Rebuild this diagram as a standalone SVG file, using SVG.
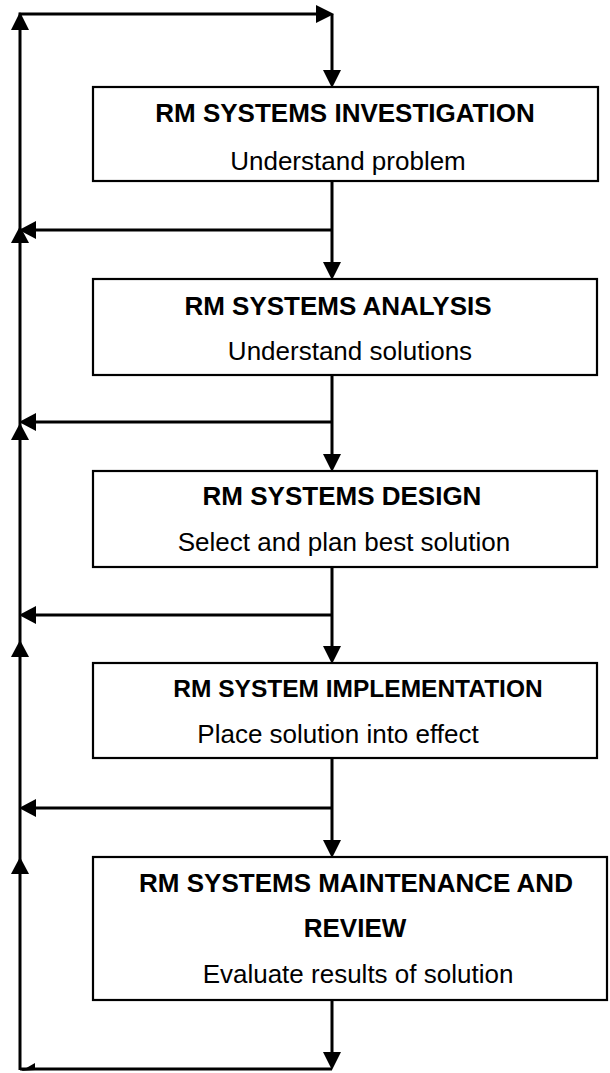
<svg xmlns="http://www.w3.org/2000/svg" width="610" height="1073" viewBox="0 0 610 1073">
<style>
.box{fill:#fff;stroke:#000;stroke-width:2.2}
.t{font-family:"Liberation Sans",Arial,sans-serif;font-weight:bold;font-size:26px;text-anchor:middle;fill:#000}
.s{font-family:"Liberation Sans",Arial,sans-serif;font-size:26px;text-anchor:middle;fill:#000}
.ln{fill:none;stroke:#000;stroke-width:3}
.ah{fill:#000}
</style>
<rect width="610" height="1073" fill="#fff"/>
<g id="connectors">
<path class="ln" d="M20,1070 V14 H318"/>
<path class="ln" d="M332,14 V73"/>
<path class="ln" d="M332,181 V265 M332,230 H34"/>
<path class="ln" d="M332,375 V457 M332,422 H34"/>
<path class="ln" d="M332,567 V649 M332,615 H34"/>
<path class="ln" d="M332,758 V843 M332,808 H34"/>
<path class="ln" d="M332,1000 V1055 M332,1069 H20"/>
<polygon class="ah" points="334,14 316,5 316,23"/>
<polygon class="ah" points="20,12 11,30 29,30"/>
<polygon class="ah" points="332,88 323,70 341,70"/>
<polygon class="ah" points="19,230 36,221 36,239"/>
<polygon class="ah" points="20,226 11,243 29,243"/>
<polygon class="ah" points="332,280 323,262 341,262"/>
<polygon class="ah" points="19,422 36,413 36,431"/>
<polygon class="ah" points="20,423 11,440 29,440"/>
<polygon class="ah" points="332,472 323,454 341,454"/>
<polygon class="ah" points="19,615 36,606 36,624"/>
<polygon class="ah" points="20,640 11,657 29,657"/>
<polygon class="ah" points="332,664 323,646 341,646"/>
<polygon class="ah" points="19,808 36,799 36,817"/>
<polygon class="ah" points="20,857 11,874 29,874"/>
<polygon class="ah" points="332,858 323,840 341,840"/>
<polygon class="ah" points="332,1070 323,1052 341,1052"/>
<polygon class="ah" points="21,1071 35,1063 35,1070"/>
</g>
<g id="n1">
<rect class="box" x="93" y="87" width="505" height="94"/>
<text class="t" x="345" y="122">RM SYSTEMS INVESTIGATION</text>
<text class="s" x="348" y="170">Understand problem</text>
</g>
<g id="n2">
<rect class="box" x="93" y="279" width="504" height="96"/>
<text class="t" x="338" y="315">RM SYSTEMS ANALYSIS</text>
<text class="s" x="350" y="360">Understand solutions</text>
</g>
<g id="n3">
<rect class="box" x="93" y="471" width="504" height="96"/>
<text class="t" x="342" y="505">RM SYSTEMS DESIGN</text>
<text class="s" x="344" y="551">Select and plan best solution</text>
</g>
<g id="n4">
<rect class="box" x="93" y="663" width="504" height="95"/>
<text class="t" x="358" y="697" style="font-size:24.5px">RM SYSTEM IMPLEMENTATION</text>
<text class="s" x="338" y="743">Place solution into effect</text>
</g>
<g id="n5">
<rect class="box" x="93" y="857" width="514" height="143"/>
<text class="t" x="356" y="892">RM SYSTEMS MAINTENANCE AND</text>
<text class="t" x="355" y="937">REVIEW</text>
<text class="s" x="358" y="983">Evaluate results of solution</text>
</g>
</svg>
